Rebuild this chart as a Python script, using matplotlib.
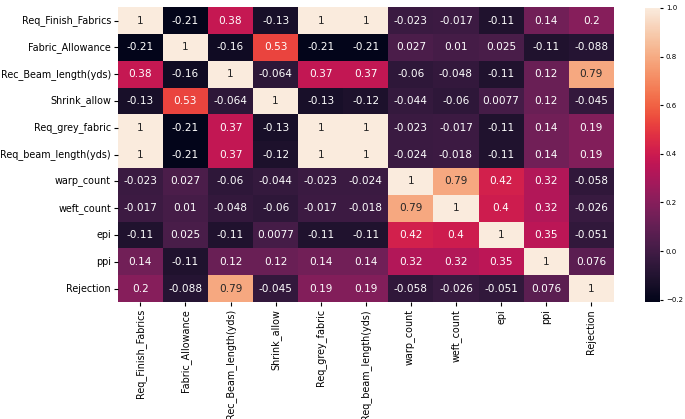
import numpy as np
import pandas as pd
import matplotlib
matplotlib.use("Agg")
import matplotlib.pyplot as plt
import seaborn as sns

columns = ["Req_Finish_Fabrics", "Fabric_Allowance", "Rec_Beam_length(yds)",
           "Shrink_allow", "Req_grey_fabric", "Req_beam_length(yds)",
           "warp_count", "weft_count", "epi", "ppi", "Rejection"]

row_finish = [1, -0.21, 0.38, -0.13, 1, 1, -0.023, -0.017, -0.11, 0.14, 0.2]
row_allow = [-0.21, 1, -0.16, 0.53, -0.21, -0.21, 0.027, 0.01, 0.025, -0.11, -0.088]
row_rec_beam = [0.38, -0.16, 1, -0.064, 0.37, 0.37, -0.06, -0.048, -0.11, 0.12, 0.79]
row_shrink = [-0.13, 0.53, -0.064, 1, -0.13, -0.12, -0.044, -0.06, 0.0077, 0.12, -0.045]
row_grey = [1, -0.21, 0.37, -0.13, 1, 1, -0.023, -0.017, -0.11, 0.14, 0.19]
row_req_beam = [1, -0.21, 0.37, -0.12, 1, 1, -0.024, -0.018, -0.11, 0.14, 0.19]
row_warp = [-0.023, 0.027, -0.06, -0.044, -0.023, -0.024, 1, 0.79, 0.42, 0.32, -0.058]
row_weft = [-0.017, 0.01, -0.048, -0.06, -0.017, -0.018, 0.79, 1, 0.4, 0.32, -0.026]
row_epi = [-0.11, 0.025, -0.11, 0.0077, -0.11, -0.11, 0.42, 0.4, 1, 0.35, -0.051]
row_ppi = [0.14, -0.11, 0.12, 0.12, 0.14, 0.14, 0.32, 0.32, 0.35, 1, 0.076]
row_reject = [0.2, -0.088, 0.79, -0.045, 0.19, 0.19, -0.058, -0.026, -0.051, 0.076, 1]

corr = pd.DataFrame([row_finish, row_allow, row_rec_beam, row_shrink, row_grey,
                     row_req_beam, row_warp, row_weft, row_epi, row_ppi, row_reject],
                    index=columns, columns=columns)

fig = plt.figure(figsize=(6.85, 4.19), dpi=100)
ax = fig.add_axes([0.172, 0.279, 0.724, 0.704])
cax = fig.add_axes([0.942, 0.279, 0.022, 0.702])

sns.heatmap(corr, annot=True, ax=ax, cbar_ax=cax, annot_kws={"size": 7.6})

ax.tick_params(labelsize=6.9, length=3, pad=2)
plt.setp(ax.get_xticklabels(), rotation=90)
plt.setp(ax.get_yticklabels(), rotation=0)
cax.tick_params(labelsize=5, length=2.5, pad=1.5)

fig.savefig("out.png", dpi=100)
